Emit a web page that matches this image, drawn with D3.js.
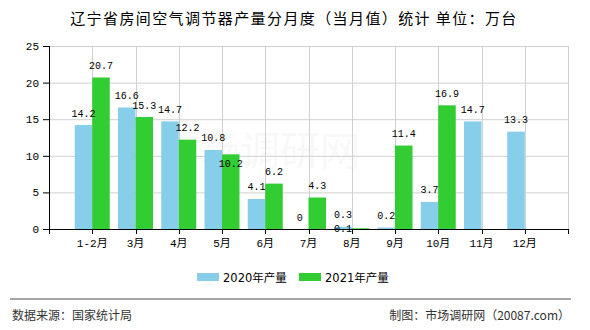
<!DOCTYPE html>
<html><head><meta charset="utf-8">
<script src="https://cdn.jsdelivr.net/npm/d3@7/dist/d3.min.js"></script>
<style>body{margin:0;background:#fff;}svg{display:block;}</style>
</head><body>
<svg id="c" width="590" height="330"></svg>
<script>
const categories = ["1-2月","3月","4月","5月","6月","7月","8月","9月","10月","11月","12月"];
const values2020 = [14.2,16.6,14.7,10.8,4.1,0,0.3,0.2,3.7,14.7,13.3];
const values2021 = [20.7,15.3,12.2,10.2,6.2,4.3,0.1,11.4,16.9,null,null];
const seriesNames = ["2020年产量","2021年产量"];
const colors = ["#87ceeb","#32cd32"];
const yTicks = [0,5,10,15,20,25];

const svg = d3.select("#c");
const L=49,R=568,T=46,B=229;
const x = d3.scaleLinear().domain([0,categories.length+1]).range([L,R]);
const y = d3.scaleLinear().domain([0,25]).range([B,T]);
const bw = 17.5;

svg.append("text").attr("x",294).attr("y",24).attr("text-anchor","middle")
  .attr("font-family","'Noto Sans CJK SC',sans-serif").attr("font-size",15)
  .attr("letter-spacing","1.4px").attr("fill","#000")
  .text("辽宁省房间空气调节器产量分月度（当月值）统计  单位：万台");

// watermark
svg.append("text").attr("x",260).attr("y",165).attr("text-anchor","middle")
  .attr("font-family","'Noto Sans CJK SC',sans-serif").attr("font-size",40)
  .attr("fill","#000").attr("opacity",0.022).text("市场调研网");

// grid
const g = svg.append("g");
g.selectAll(".hg").data(yTicks).enter().append("line")
  .attr("x1",L).attr("x2",R).attr("y1",d=>y(d)+0.5).attr("y2",d=>y(d)+0.5)
  .attr("stroke","#d0d0d0").attr("stroke-width",1);
g.selectAll(".vg").data(d3.range(0,categories.length+2)).enter().append("line")
  .attr("x1",d=>Math.round(x(d))+0.5).attr("x2",d=>Math.round(x(d))+0.5).attr("y1",T).attr("y2",B)
  .attr("stroke","#d0d0d0").attr("stroke-width",1);

// bars
const series=[values2020,values2021];
series.forEach((vals,si)=>{
  svg.append("g").selectAll("rect").data(vals.map((v,i)=>({v,i})).filter(d=>d.v!==null))
    .enter().append("rect")
    .attr("x",d=>x(d.i+1)+(si===0?-bw:0)).attr("width",bw)
    .attr("y",d=>y(d.v)).attr("height",d=>B-y(d.v))
    .attr("fill",colors[si]);
});

// axes
svg.append("line").attr("x1",L+0.5).attr("x2",L+0.5).attr("y1",T).attr("y2",B).attr("stroke","#000");
svg.append("line").attr("x1",L).attr("x2",R+1).attr("y1",B+0.5).attr("y2",B+0.5).attr("stroke","#000");
svg.selectAll(".yt").data(yTicks).enter().append("line")
  .attr("x1",L-6).attr("x2",L).attr("y1",d=>y(d)+0.5).attr("y2",d=>y(d)+0.5).attr("stroke","#000");
svg.selectAll(".ytl").data(yTicks).enter().append("text")
  .attr("x",L-10).attr("y",d=>y(d)+4).attr("text-anchor","end")
  .attr("font-family","'Liberation Mono',monospace").attr("font-size",11).attr("fill","#000").text(d=>d);
svg.selectAll(".xt").data(d3.range(0,categories.length+2)).enter().append("line")
  .attr("x1",d=>Math.round(x(d))+0.5).attr("x2",d=>Math.round(x(d))+0.5).attr("y1",B).attr("y2",B+5).attr("stroke","#000");
svg.selectAll(".xtl").data(categories).enter().append("text")
  .attr("x",(d,i)=>x(i+1)).attr("y",B+18).attr("text-anchor","middle")
  .attr("font-family","'Liberation Mono','Noto Sans CJK SC',monospace").attr("font-size",11).attr("fill","#000").text(d=>d);

// value labels with simple collision handling
const placed=[];
const lw=v=>String(v).length*6;
const labels=[];
categories.forEach((c,i)=>{
  series.forEach((vals,si)=>{
    const v=vals[i]; if(v===null) return;
    labels.push({v,si,i});
  });
});
const lg=svg.append("g");
labels.forEach(l=>{
  let cx=x(l.i+1)+(l.si===0?-bw/2:bw/2);
  const top=y(l.v);
  let by=top-8.5;
  const box=(cx,by)=>({x0:cx-lw(l.v)/2,x1:cx+lw(l.v)/2,y0:by-8,y1:by});
  let b=box(cx,by);
  const hit=placed.find(p=>b.x0<p.x1&&b.x1>p.x0&&b.y0<p.y1&&b.y1>p.y0);
  if(hit){
    let nb=Math.max(hit.y1+11,top+13);
    if(top+13>B+3){ nb=B+3; cx=hit.cx; }
    by=Math.min(nb,B+3);
    b=box(cx,by);
  }
  b.cx=cx; placed.push(b);
  lg.append("text").attr("x",cx).attr("y",by).attr("text-anchor","middle")
    .attr("font-family","'Liberation Mono',monospace").attr("font-size",10).attr("fill","#000").text(l.v);
});

// legend
const leg=svg.append("g");
const lx=[197,299];
seriesNames.forEach((n,i)=>{
  leg.append("rect").attr("x",lx[i]).attr("y",273).attr("width",22).attr("height",8).attr("fill",colors[i]);
  leg.append("text").attr("x",lx[i]+26).attr("y",281.5)
    .attr("font-family","'DejaVu Sans','Noto Sans CJK SC',sans-serif").attr("font-size",11.5).attr("fill","#000").text(n);
});

// footer
svg.append("line").attr("x1",10).attr("x2",571).attr("y1",299).attr("y2",299).attr("stroke","#888").attr("stroke-width",1.5);
svg.append("text").attr("x",12).attr("y",320).attr("font-family","'Noto Sans CJK SC',sans-serif").attr("font-size",12).attr("fill","#333").text("数据来源：国家统计局");
svg.append("text").attr("x",570).attr("y",320).attr("text-anchor","end").attr("font-family","'Noto Sans CJK SC',sans-serif").attr("font-size",12).attr("fill","#333").text("制图：市场调研网（20087.com）");
</script>
</body></html>
